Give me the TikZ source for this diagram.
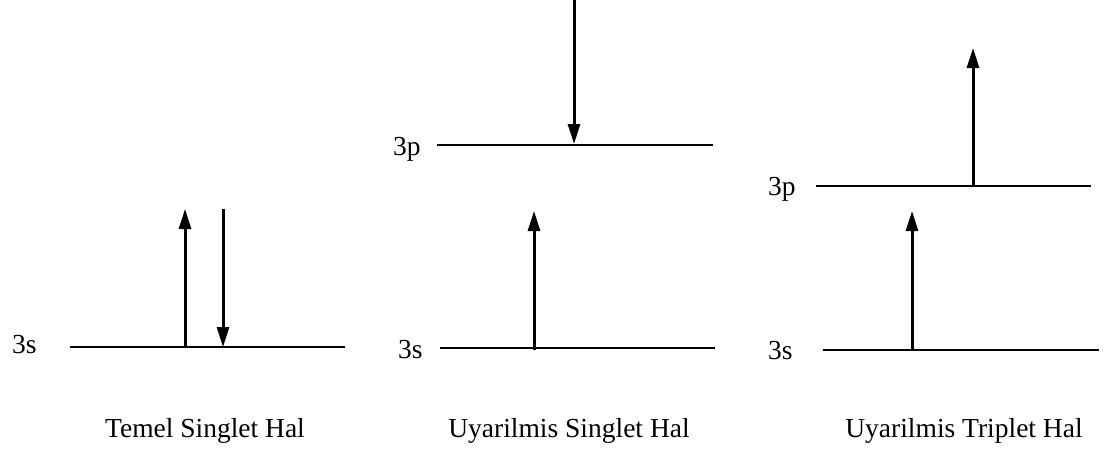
\documentclass[tikz,border=0pt]{standalone}
\usepackage{fontspec}
\setmainfont{Liberation Serif}
\usetikzlibrary{arrows.meta}

\begin{document}
\begin{tikzpicture}[x=1pt, y=-1pt,
    lvl/.style={line width=2.3pt},
    spin/.style={line width=3pt, -{Triangle[length=20pt, width=12pt]}},
    lbl/.style={inner sep=0pt, font=\fontsize{27.5}{33}\selectfont},
]
\useasboundingbox (0,0) rectangle (1107,450);

% Temel Singlet Hal
\coordinate (aSL) at (70,347);
\coordinate (aSR) at (345,347);
\node[lbl, anchor=base west] (aS) at (12,353) {3s};
\draw[lvl] (aSL) -- (aSR);
\coordinate (aUpA) at (185,348);
\coordinate (aUpB) at (185,209);
\coordinate (aDnA) at (223,209);
\coordinate (aDnB) at (223,347);
\draw[spin] (aUpA) -- (aUpB);
\draw[spin] (aDnA) -- (aDnB);
\node[lbl, anchor=base] (aName) at (205,437) {Temel Singlet Hal};

% Uyarilmis Singlet Hal
\coordinate (bPL) at (437,145);
\coordinate (bPR) at (713,145);
\coordinate (bSL) at (440,348);
\coordinate (bSR) at (715,348);
\node[lbl, anchor=base west] (bP) at (393,155) {3p};
\node[lbl, anchor=base west] (bS) at (398,358) {3s};
\draw[lvl] (bPL) -- (bPR);
\draw[lvl] (bSL) -- (bSR);
\coordinate (bDnA) at (574,0);
\coordinate (bDnB) at (574,144);
\coordinate (bUpA) at (534,350);
\coordinate (bUpB) at (534,211);
\draw[spin] (bDnA) -- (bDnB);
\draw[spin] (bUpA) -- (bUpB);
\node[lbl, anchor=base] (bName) at (569,437) {Uyarilmis Singlet Hal};

% Uyarilmis Triplet Hal
\coordinate (cPL) at (816,186);
\coordinate (cPR) at (1091,186);
\coordinate (cSL) at (823,350);
\coordinate (cSR) at (1099,350);
\node[lbl, anchor=base west] (cP) at (768,195) {3p};
\node[lbl, anchor=base west] (cS) at (768,359) {3s};
\draw[lvl] (cPL) -- (cPR);
\draw[lvl] (cSL) -- (cSR);
\coordinate (cUpA) at (973,187);
\coordinate (cUpB) at (973,48);
\coordinate (cUp2A) at (912,351);
\coordinate (cUp2B) at (912,211);
\draw[spin] (cUpA) -- (cUpB);
\draw[spin] (cUp2A) -- (cUp2B);
\node[lbl, anchor=base] (cName) at (964,437) {Uyarilmis Triplet Hal};

\end{tikzpicture}
\end{document}
